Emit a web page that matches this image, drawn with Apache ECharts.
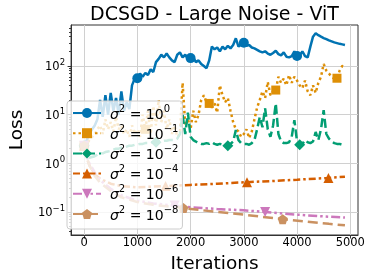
<!DOCTYPE html>
<html><head><meta charset="utf-8">
<script src="https://cdn.jsdelivr.net/npm/echarts@6/dist/echarts.min.js"></script>
<style>html,body{margin:0;padding:0;background:#fff}#c{width:374px;height:279px}</style>
</head><body><div id="c"></div>
<script>
const titleText = 'DCSGD - Large Noise - ViT';
const xName = 'Iterations';
const yName = 'Loss';
const xTicks = [0, 1000, 2000, 3000, 4000, 5000];
const yTicks = [0.1, 1, 10, 100];
const yTickExp = ['−1', '0', '1', '2'];
const yMinorTicks = [0.04,0.05,0.06,0.07,0.08,0.09,0.2,0.3,0.4,0.5,0.6,0.7,0.8,0.9,2,3,4,5,6,7,8,9,20,30,40,50,60,70,80,90,200,300,400,500,600];
const seriesNames = ['s0','s1','s2','s4','s6','s8'];
const legendExp = ['0','−1','−2','−4','−6','−8'];

const iters = [0,50,100,150,200,250,300,350,400,450,500,550,600,650,700,750,800,850,900,950,
1000,1050,1100,1150,1200,1250,1300,1350,1400,1450,1500,1550,1600,1650,1700,1750,1800,1850,1900,1950,
2000,2050,2100,2150,2200,2250,2300,2350,2400,2450,2500,2550,2600,2650,2700,2750,2800,2850,2900,2950,
3000,3050,3100,3150,3200,3250,3300,3350,3400,3450,3500,3550,3600,3650,3700,3750,3800,3850,3900,3950,
4000,4050,4100,4150,4200,4250,4300,4350,4400,4450,4500,4550,4600,4650,4700,4750,4800,4850,4900];

const loss_s1e0 = [2.3,3,4,5,6,8,20,9,25,10,28,12,22,10,30,12,18,13,40,55,
56,70,60,72,65,85,75,120,140,170,150,180,150,130,120,170,190,150,170,140,
145,150,120,130,110,100,90,130,250,220,240,200,250,220,260,230,270,370,250,280,
300,260,270,240,230,215,200,190,200,180,170,185,205,175,165,190,155,150,160,200,
160,165,200,160,150,250,400,470,430,400,375,355,335,320,305,295,285,278,270];

const loss_s1em1 = [2.3,2.5,3,3.5,4,5,6,4,8,5,7,4.5,9,5,6,4,5,3.5,6,4,
5,3.5,10,5,12,4,15,6,20,7,12,5,8,4,6,3.5,4,45,6,8,
5,12,7,10,20,25,18,17,14,17,11,40,25,18,22,12,7,5,4.5,3.5,
4,5,3.3,4.5,8,14,20,30,22,47,25,30,32,60,45,55,40,65,45,60,
50,40,35,50,30,25,40,28,45,60,110,80,70,60,55,56,80,100,95];

const loss_s1em2 = [2.3,1.5,1.3,1.35,1.4,1.5,1.6,1.6,1.7,1.75,1.8,1.9,2.0,2.0,2.1,2.1,2.2,2.3,2.3,2.4,
2.4,2.5,2.5,2.6,2.6,2.7,2.7,2.7,2.8,2.8,2.9,2.9,3.0,3.0,3.0,3.2,4,10,4,11,
3.5,3,2.8,2.6,2.5,2.5,2.6,2.5,2.7,2.5,2.4,2.5,2.4,2.35,2.3,2.5,2.8,4.8,3,2.6,
2.5,2.5,2.4,2.6,3,5,9,5.5,13.5,5,3.5,6,17,4,2.8,2.6,2.6,2.7,3.5,7.7,
2.8,2.4,2.5,3,2.7,2.6,2.8,4.4,3,5,12.4,4,3.2,2.8,2.6,2.5,2.5,2.4,2.4];

const iters_s1em4 = [0,50,100,200,300,500,700,1000,1530,2000,2500,3060,3500,4000,4590,4900];
const loss_s1em4 = [2.3,1.3,0.9,0.6,0.48,0.38,0.34,0.32,0.34,0.36,0.38,0.41,0.43,0.46,0.5,0.53];

const iters_s1em6 = [0,50,100,200,300,500,700,1000,1300,1700,2000,2500,3000,3400,4000,4500,4900];
const loss_s1em6 = [2.3,1.4,1.0,0.65,0.45,0.3,0.22,0.17,0.15,0.135,0.125,0.115,0.108,0.1,0.088,0.081,0.077];

const iters_s1em8 = [0,50,100,200,300,500,700,1000,1300,1865,2500,3000,3730,4200,4600,4900];
const loss_s1em8 = [2.3,1.3,0.9,0.55,0.4,0.27,0.2,0.16,0.14,0.12,0.1,0.088,0.071,0.063,0.057,0.053];

// iterations at which a marker is drawn (like matplotlib markevery)
const marks_s1e0 = [0,1000,2000,3000,4000];
const marks_s1em1 = [0,1150,2350,3600,4750];
const marks_s1em2 = [0,1350,2700,4050];
const marks_s1em4 = [0,1530,3060,4590];
const marks_s1em6 = [0,1700,3400];
const marks_s1em8 = [0,1865,3730];

const colors = ['#0173b2','#de8f05','#029e73','#d55e00','#cc78bc','#ca9161'];
const symbols = ['circle','rect','path://M5,0 L10,5 L5,10 L0,5 Z','triangle','path://M0,0 L10,0 L5,10 Z','path://M5,0 L10,3.8 L8.1,10 L1.9,10 L0,3.8 Z'];
const symSizes = [10,9,11,10,10,10];
const dashes = ['solid',[2.5,3],[9,4],[7,3,2.5,3],[9,3,2.5,3,2.5,3],[10,5]];

const xs = [iters, iters, iters, iters_s1em4, iters_s1em6, iters_s1em8];
const ys = [loss_s1e0, loss_s1em1, loss_s1em2, loss_s1em4, loss_s1em6, loss_s1em8];
const marks = [marks_s1e0, marks_s1em1, marks_s1em2, marks_s1em4, marks_s1em6, marks_s1em8];

const series = seriesNames.map((name, k) => ({
  name, type: 'line', xAxisIndex: 0, yAxisIndex: 0,
  data: xs[k].map((x, i) => marks[k].includes(x) ? {value: [x, ys[k][i]]} : {value: [x, ys[k][i]], symbol: 'none'}),
  symbol: symbols[k], symbolSize: symSizes[k], showSymbol: true, showAllSymbol: true,
  lineStyle: {color: colors[k], width: 2.5, type: dashes[k], cap: 'butt'},
  itemStyle: {color: colors[k], borderWidth: 0},
  color: colors[k], animation: false, silent: true, clip: true,
  emphasis: {disabled: true}
}));

const chart = echarts.init(document.getElementById('c'), null, {renderer: 'canvas'});
const F = 'DejaVu Sans';
chart.setOption({
  animation: false,
  title: {text: titleText, left: 209.5, top: 1, textAlign: 'center',
    textStyle: {fontFamily: F, fontSize: 19, fontWeight: 'normal', color: '#000'}},
  grid: {left: 61, right: 16, top: 25, bottom: 44, show: true, borderColor: '#333', borderWidth: 1, containLabel: false},
  xAxis: {type: 'value', min: -245, max: 5145,
    name: xName, nameLocation: 'middle', nameGap: 15,
    nameTextStyle: {fontFamily: F, fontSize: 18.5, color: '#000'},
    axisLine: {show: true, onZero: false, lineStyle: {color: '#333'}},
    axisTick: {show: true, length: 3.5, customValues: xTicks, lineStyle: {color: '#333'}},
    axisLabel: {customValues: xTicks, margin: 2.5, fontFamily: F, fontSize: 11.5, color: '#000',
      formatter: v => String(Math.round(v))},
    splitLine: {show: true, lineStyle: {color: '#d0d0d0', width: 1}}},
  yAxis: [{type: 'log', logBase: 10, min: 0.0336, max: 695,
    name: yName, nameLocation: 'middle', nameGap: 34, nameRotate: 90,
    nameTextStyle: {fontFamily: F, fontSize: 18.5, color: '#000'},
    axisLine: {show: true, onZero: false, lineStyle: {color: '#333'}},
    axisTick: {show: true, length: 3.5, customValues: yTicks, lineStyle: {color: '#333'}},
    axisLabel: {customValues: yTicks, margin: 6, color: '#000',
      formatter: v => { for (let j = 0; j < yTicks.length; j++) { if (Math.abs(v - yTicks[j]) / yTicks[j] < 1e-6) return '{b|10}{s|' + yTickExp[j] + '}'; } return ''; },
      rich: {b: {fontFamily: F, fontSize: 11.5, lineHeight: 15, verticalAlign: 'bottom', color: '#000'},
             s: {fontFamily: F, fontSize: 8.5, lineHeight: 9, verticalAlign: 'top', color: '#000'}}},
    splitLine: {show: true, lineStyle: {color: '#d0d0d0', width: 1}}},
   {type: 'log', logBase: 10, min: 0.0336, max: 695, position: 'left',
    axisLine: {show: false, onZero: false}, axisLabel: {show: false}, splitLine: {show: false},
    axisTick: {show: true, length: 2, customValues: yMinorTicks, lineStyle: {color: '#333'}}}],
  legend: {orient: 'vertical', left: 67, top: 101, padding: [3, 4, 6, 5],
    itemWidth: 28, itemHeight: 12.5, itemGap: 2.2,
    backgroundColor: 'rgba(255,255,255,0.8)', borderColor: '#cccccc', borderWidth: 1, borderRadius: 3,
    data: seriesNames,
    formatter: n => '{g|}{i|σ}{s|2}{t| = 10}{s|' + legendExp[seriesNames.indexOf(n)] + '}',
    textStyle: {fontFamily: F, fontSize: 14, color: '#000',
      rich: {g: {width: 4, lineHeight: 18},
             i: {fontFamily: F, fontSize: 14, fontStyle: 'italic', lineHeight: 18, verticalAlign: 'bottom'},
             t: {fontFamily: F, fontSize: 14, lineHeight: 18, verticalAlign: 'bottom'},
             s: {fontFamily: F, fontSize: 10, lineHeight: 11, verticalAlign: 'top'}}},
    selectedMode: false},
  series
});
</script></body></html>
